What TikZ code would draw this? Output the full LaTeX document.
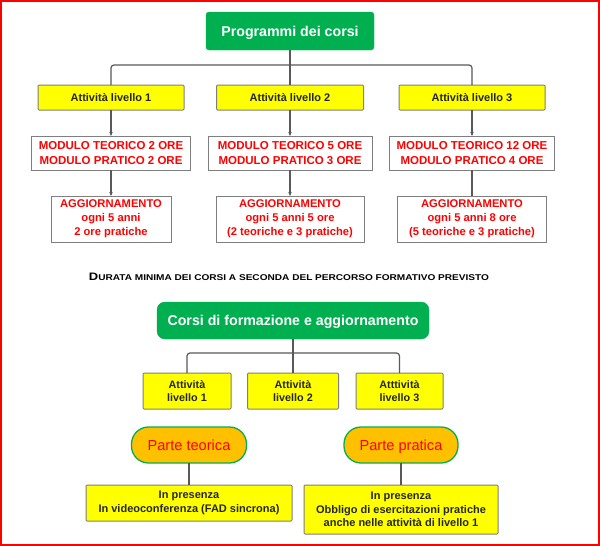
\documentclass[tikz,border=0pt]{standalone}
\usepackage{fontspec}
\usepackage{graphicx}
\setmainfont{Liberation Sans}
\usetikzlibrary{arrows.meta}
\definecolor{gr}{HTML}{00B050}
\definecolor{yl}{HTML}{FFFF00}
\definecolor{og}{HTML}{FFC000}
\definecolor{rd}{HTML}{FF0000}
\definecolor{bd}{HTML}{7F7F7F}
\definecolor{ln}{HTML}{595959}
\definecolor{tx}{HTML}{262626}
\tikzset{
  gbox/.style={fill=gr, draw=gr, text=white, font=\bfseries\fontsize{14.2}{16}\selectfont, inner sep=0pt, outer sep=0pt, text height=10.2pt, text depth=0pt},
  ybox/.style={fill=yl, draw=bd, line width=1pt, text=tx, align=center, inner sep=0pt, outer sep=0pt, rounded corners=1pt},
  rbox/.style={fill=white, draw=bd, line width=1pt, text=rd, align=center, inner sep=0pt, outer sep=0pt, font=\bfseries\fontsize{11.5}{14.5}\selectfont},
  pill/.style={fill=og, draw=gr, line width=1.3pt, text=rd, rounded corners=17pt, inner sep=0pt, outer sep=0pt, font=\fontsize{14.6}{16}\selectfont, text height=10.5pt, text depth=0pt},
  conn/.style={draw=ln, line width=1.2pt},
  arr/.style={conn, -{Stealth[length=4pt,width=3.5pt]}},
}
\begin{document}
\begin{tikzpicture}[x=1pt,y=-1pt]
\useasboundingbox (0,0) rectangle (600,546);
\fill[white] (0,0) rectangle (600,546);
\draw[rd, line width=2pt] (1,1) rectangle (598.5,545);
% top part
\node[gbox, rounded corners=3pt, minimum width=168pt, minimum height=38pt] (g1) at (290,31) {Programmi dei corsi};
\node[ybox, minimum width=146pt, minimum height=25pt, font=\bfseries\fontsize{11}{13}\selectfont] (y1) at (111,97.5) {Attività livello 1};
\node[ybox, minimum width=147pt, minimum height=25pt, font=\bfseries\fontsize{11}{13}\selectfont] (y2) at (290,97.5) {Attività livello 2};
\node[ybox, minimum width=146pt, minimum height=25pt, font=\bfseries\fontsize{11}{13}\selectfont] (y3) at (472,97.5) {Attività livello 3};
\draw[conn] (g1.south) -- (y2.north);
\draw[conn, rounded corners=3pt] (y1.north) |- (290,65) -| (y3.north);
\node[rbox, minimum width=159pt, minimum height=34pt] (r1) at (111,153) {MODULO TEORICO 2 ORE\\MODULO PRATICO 2 ORE};
\node[rbox, minimum width=164pt, minimum height=34pt] (r2) at (290,153) {MODULO TEORICO 5 ORE\\MODULO PRATICO 3 ORE};
\node[rbox, minimum width=165pt, minimum height=34pt] (r3) at (472,153) {MODULO TEORICO 12 ORE\\MODULO PRATICO 4 ORE};
\draw[arr] (y1.south) -- (r1.north);
\draw[arr] (y2.south) -- (r2.north);
\draw[arr] (y3.south) -- (r3.north);
\node[rbox, minimum width=120pt, minimum height=46pt, font=\bfseries\fontsize{11.2}{14}\selectfont] (a1) at (111,219) {AGGIORNAMENTO\\ogni 5 anni\\2 ore pratiche};
\node[rbox, minimum width=148pt, minimum height=46pt, font=\bfseries\fontsize{11.2}{14}\selectfont] (a2) at (290,219) {AGGIORNAMENTO\\ogni 5 anni 5 ore\\(2 teoriche e 3 pratiche)};
\node[rbox, minimum width=149pt, minimum height=46pt, font=\bfseries\fontsize{11.2}{14}\selectfont] (a3) at (472,219) {AGGIORNAMENTO\\ogni 5 anni 8 ore\\(5 teoriche e 3 pratiche)};
\draw[arr] (r1.south) -- (a1.north);
\draw[arr] (r2.south) -- (a2.north);
\draw[conn] (r3.south) -- (a3.north);
% title
\node[text=black, inner sep=0pt, font=\bfseries] (title) at (289,277) {\scalebox{1.2}[1]{{\fontsize{10.8}{12}\selectfont D}{\fontsize{8.4}{10}\selectfont URATA MINIMA DEI CORSI A SECONDA DEL PERCORSO FORMATIVO PREVISTO}}};
% bottom part
\node[gbox, rounded corners=8pt, minimum width=272pt, minimum height=37pt] (g2) at (293,320.5) {Corsi di formazione e aggiornamento};
\node[ybox, minimum width=88pt, minimum height=36pt, font=\bfseries\fontsize{10.8}{13.3}\selectfont] (b1) at (187,391) {Attività\\livello 1};
\node[ybox, minimum width=91pt, minimum height=36pt, font=\bfseries\fontsize{10.8}{13.3}\selectfont] (b2) at (293,391) {Attività\\livello 2};
\node[ybox, minimum width=87pt, minimum height=36pt, font=\bfseries\fontsize{10.8}{13.3}\selectfont] (b3) at (399.5,391) {Atttività\\livello 3};
\draw[conn] (g2.south) -- (b2.north);
\draw[conn, rounded corners=3pt] (b1.north) |- (293,353) -| (b3.north);
\node[pill, minimum width=115pt, minimum height=36pt] (p1) at (189,445) {Parte teorica};
\node[pill, minimum width=114pt, minimum height=36pt] (p2) at (401,445) {Parte pratica};
\node[ybox, minimum width=206pt, minimum height=36pt, font=\bfseries\fontsize{11}{13.5}\selectfont] (c1) at (189,503) {In presenza\\In videoconferenza (FAD sincrona)};
\node[ybox, minimum width=194pt, minimum height=49pt, font=\bfseries\fontsize{11}{13.5}\selectfont] (c2) at (401,509.5) {In presenza\\Obbligo di esercitazioni pratiche\\anche nelle attività di livello 1};
\draw[conn] (p1.south) -- (c1.north);
\draw[conn] (p2.south) -- (c2.north);
\end{tikzpicture}
\end{document}
